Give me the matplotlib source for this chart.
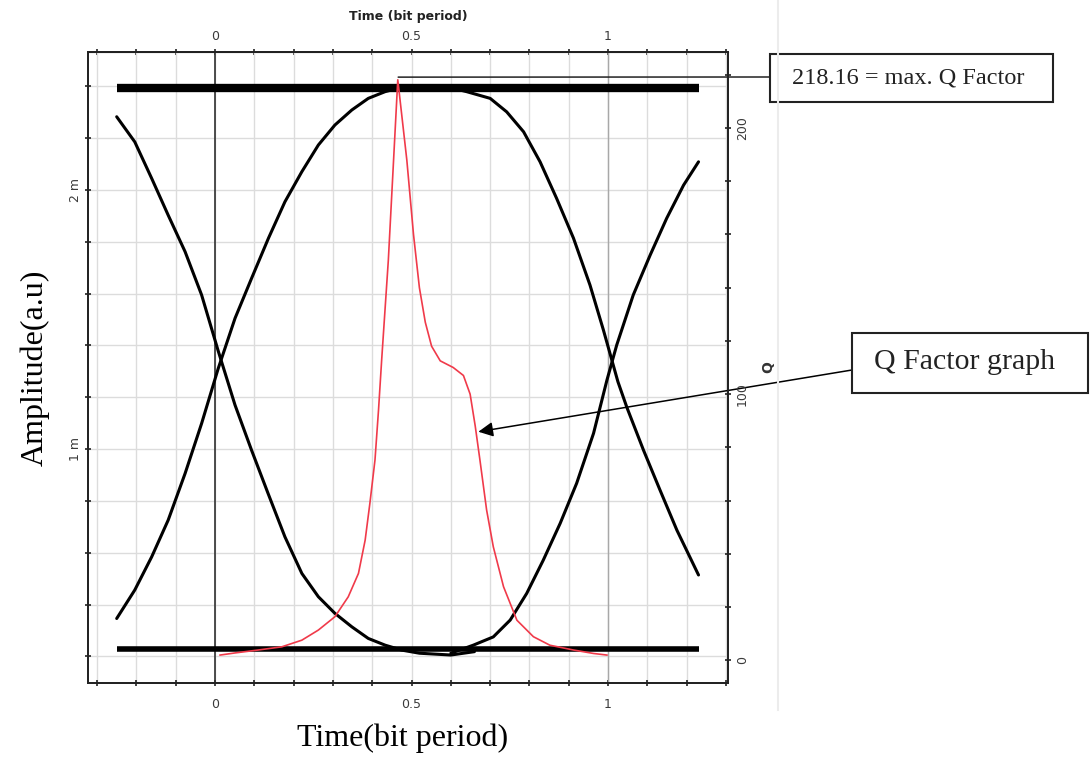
import matplotlib
matplotlib.use('Agg')
import matplotlib.pyplot as plt
from matplotlib.ticker import MultipleLocator, FixedLocator
from matplotlib.patches import Rectangle
from matplotlib.lines import Line2D

# eye diagram traces: time in bit periods, amplitude in m (milli) units
top_rail_t = [-0.25, 1.23]
top_rail_a = [2.394, 2.394]
bottom_rail_t = [-0.25, 1.23]
bottom_rail_a = [0.230, 0.230]

fall_left_t = [-0.250, -0.204, -0.161, -0.119, -0.076, -0.034, 0.008, 0.051, 0.093, 0.135,
               0.178, 0.221, 0.263, 0.305, 0.348, 0.390, 0.433, 0.475, 0.52, 0.60, 0.66]
fall_left_a = [2.283, 2.186, 2.045, 1.903, 1.762, 1.595, 1.380, 1.170, 0.996, 0.829,
               0.661, 0.520, 0.430, 0.366, 0.314, 0.269, 0.243, 0.224, 0.212, 0.205, 0.218]

rise_left_t = [-0.250, -0.204, -0.161, -0.119, -0.076, -0.034, 0.008, 0.051, 0.093, 0.136,
               0.178, 0.221, 0.263, 0.305, 0.348, 0.390, 0.433, 0.466, 0.52, 0.60]
rise_left_a = [0.346, 0.456, 0.584, 0.726, 0.906, 1.099, 1.310, 1.505, 1.659, 1.814,
               1.955, 2.071, 2.174, 2.251, 2.309, 2.354, 2.380, 2.393, 2.400, 2.400]

fall_right_t = [0.60, 0.64, 0.700, 0.742, 0.785, 0.827, 0.869, 0.912, 0.954, 0.988,
                1.025, 1.048, 1.090, 1.132, 1.175, 1.230]
fall_right_a = [2.395, 2.380, 2.354, 2.302, 2.225, 2.109, 1.968, 1.814, 1.633, 1.460,
                1.260, 1.160, 0.996, 0.842, 0.687, 0.514]

rise_right_t = [0.60, 0.657, 0.708, 0.751, 0.793, 0.835, 0.878, 0.920, 0.963, 0.997,
                1.022, 1.064, 1.107, 1.149, 1.192, 1.230]
rise_right_a = [0.212, 0.243, 0.275, 0.340, 0.443, 0.571, 0.713, 0.868, 1.061, 1.266,
                1.402, 1.595, 1.749, 1.891, 2.019, 2.109]

# Q factor vs sampling time
q_t = [0.013, 0.051, 0.110, 0.170, 0.221, 0.263, 0.305, 0.339, 0.365, 0.382, 0.394, 0.407,
       0.416, 0.424, 0.441, 0.465, 0.488, 0.505, 0.520, 0.535, 0.551, 0.573, 0.606, 0.632,
       0.649, 0.662, 0.674, 0.691, 0.708, 0.734, 0.768, 0.810, 0.852, 0.912, 0.963, 0.997]
q_v = [1.9, 2.7, 3.8, 5.0, 7.5, 11.3, 16.3, 23.8, 32.6, 45.1, 58.9, 75.2,
       94.0, 112.8, 150.4, 218.16, 188.0, 160.0, 140.0, 127.0, 118.0, 112.5, 110.0, 107.0,
       100.0, 88.0, 75.2, 56.4, 42.6, 27.6, 15.0, 8.8, 5.6, 3.8, 2.5, 1.9]
q_max = 218.16
q_max_t = 0.466
q_max_a = 2.436
arrow_t, arrow_a = 0.670, 1.067

W, H = 1090, 760
fig = plt.figure(figsize=(W / 100, H / 100), dpi=100)
ax = fig.add_axes([88 / W, 1 - 683 / H, 640 / W, 631 / H])

ax.set_xlim(-0.323, 1.305)
ax.set_ylim(0.097, 2.533)
ax.xaxis.set_major_locator(FixedLocator([0, 0.5, 1]))
ax.xaxis.set_minor_locator(MultipleLocator(0.1))
ax.yaxis.set_major_locator(FixedLocator([1, 2]))
ax.yaxis.set_minor_locator(MultipleLocator(0.2))
ax.set_xticklabels(['0', '0.5', '1'])
ax.set_yticklabels(['1 m', '2 m'], rotation=90, va='center')
ax.grid(True, which='both', color='#dcdcdc', lw=1)
ax.axvline(0, color='#303030', lw=1.2)
ax.axvline(1, color='#a8a8a8', lw=1)
ax.tick_params(which='both', direction='inout', length=5, width=1.2, color='#222222',
               labelsize=9, labelcolor='#3a3a3a')
ax.tick_params(axis='x', pad=8)
ax.tick_params(axis='y', pad=2)
for s in ax.spines.values():
    s.set_color('#222222')
    s.set_linewidth(1.3)

ax.plot(top_rail_t, top_rail_a, color='black', lw=6, solid_capstyle='butt')
ax.plot(bottom_rail_t, bottom_rail_a, color='black', lw=4, solid_capstyle='butt')
for tt, aa in [(fall_left_t, fall_left_a), (rise_left_t, rise_left_a),
               (fall_right_t, fall_right_a), (rise_right_t, rise_right_a)]:
    ax.plot(tt, aa, color='black', lw=2.2, solid_capstyle='round', solid_joinstyle='round')

top = ax.secondary_xaxis('top')
top.xaxis.set_major_locator(FixedLocator([0, 0.5, 1]))
top.xaxis.set_minor_locator(MultipleLocator(0.1))
top.set_xticklabels(['0', '0.5', '1'])
top.tick_params(which='both', direction='inout', length=5, width=1.2, color='#222222',
                labelsize=9, labelcolor='#3a3a3a', pad=4)
top.set_xlabel('Time (bit period)', fontsize=9, fontweight='bold', color='#222222', labelpad=7)

ax2 = ax.twinx()
ax2.set_ylim(-8.6, 228.6)
ax2.plot(q_t, q_v, color='#f03a4a', lw=1.2, solid_joinstyle='round')
ax2.yaxis.set_major_locator(FixedLocator([0, 100, 200]))
ax2.yaxis.set_minor_locator(MultipleLocator(20))
ax2.set_yticklabels(['0', '100', '200'], rotation=90, va='center')
ax2.tick_params(which='both', direction='inout', length=5, width=1.2, color='#222222',
                labelsize=9, labelcolor='#3a3a3a', pad=3)
for s in ax2.spines.values():
    s.set_color('#222222')
    s.set_linewidth(1.3)

serif = ['Liberation Serif', 'DejaVu Serif']
fig.text(35 / W, 1 - 368 / H, 'Amplitude(a.u)', rotation=90, ha='center', va='center',
         fontsize=23, family=serif)
fig.text(403 / W, 1 - 738 / H, 'Time(bit period)', ha='center', va='center',
         fontsize=23, family=serif)
fig.text(768 / W, 1 - 367 / H, 'Q', rotation=90, ha='center', va='center',
         fontsize=10, fontweight='bold', color='#333333')

# annotation boxes
fig.add_artist(Rectangle((770 / W, 1 - 102 / H), 283 / W, 48 / H, transform=fig.transFigure,
                         fill=False, edgecolor='#222222', lw=1.5))
fig.text(908 / W, 1 - 78 / H, '%.2f = max. Q Factor' % q_max, ha='center', va='center',
         fontsize=17.5, family=serif, color='#222222')
fig.add_artist(Rectangle((852 / W, 1 - 393 / H), 236 / W, 60 / H, transform=fig.transFigure,
                         fill=False, edgecolor='#222222', lw=1.5))
fig.text(964 / W, 1 - 362 / H, 'Q Factor graph', ha='center', va='center',
         fontsize=21.5, family=serif, color='#222222')

ax.annotate('', xy=(q_max_t, q_max_a), xycoords='data',
            xytext=(770 / W, 1 - 77 / H), textcoords='figure fraction',
            arrowprops=dict(arrowstyle='-', color='#222222', lw=1.1,
                            shrinkA=0, shrinkB=0), annotation_clip=False)
ax.annotate('', xy=(arrow_t, arrow_a), xycoords='data',
            xytext=(852 / W, 1 - 370 / H), textcoords='figure fraction',
            arrowprops=dict(arrowstyle='-|>', color='black', lw=1.1, mutation_scale=22,
                            shrinkA=0, shrinkB=0), annotation_clip=False)

# faint border of the original capture
fig.add_artist(Line2D([778 / W, 778 / W], [1 - 710 / H, 1.0], transform=fig.transFigure,
                      color='#ececec', lw=1.5))

fig.savefig('out.png', dpi=100)
